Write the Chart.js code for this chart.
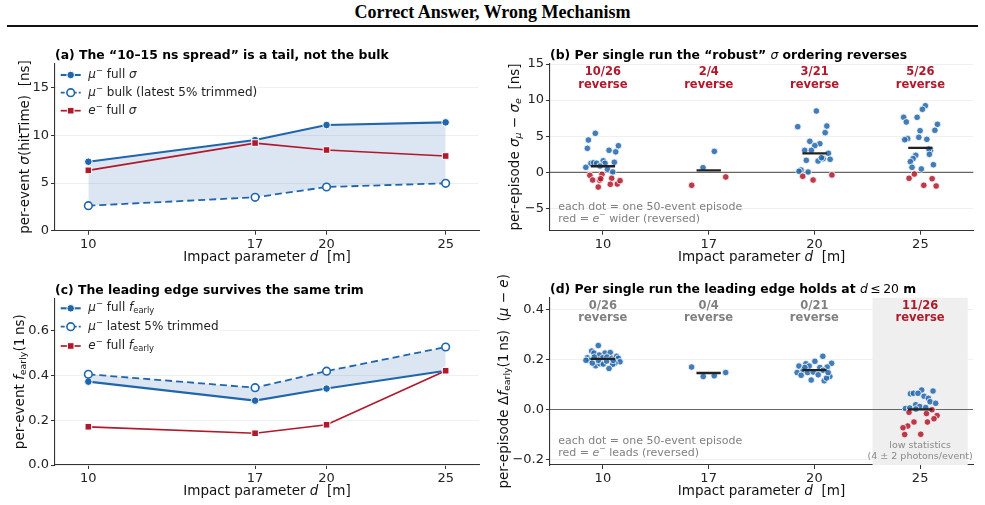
<!DOCTYPE html>
<html><head><meta charset="utf-8">
<script src="https://cdn.jsdelivr.net/npm/chart.js@4/dist/chart.umd.min.js"></script>
<style>
html,body{margin:0;padding:0;background:#fff;}
body{width:985px;height:505px;position:relative;overflow:hidden;}
#hdr{position:absolute;left:0;top:2px;width:985px;text-align:center;font:bold 18px "Liberation Serif","Times New Roman",serif;line-height:20px;color:#000;}
#rule{position:absolute;left:7px;right:7px;top:25px;height:2px;background:#111;}
canvas{position:absolute;}
</style></head><body>
<div id="hdr">Correct Answer, Wrong Mechanism</div>
<div id="rule"></div>
<canvas id="ca" width="490" height="240" style="left:0;top:30px"></canvas>
<canvas id="cb" width="495" height="240" style="left:490px;top:30px"></canvas>
<canvas id="cc" width="490" height="243" style="left:0;top:262px"></canvas>
<canvas id="cd" width="495" height="243" style="left:490px;top:262px"></canvas>
<script>
// ---------------- data ----------------
const dValues = [10, 17, 20, 25];
const dTickLabels = ['10', '17', '20', '25'];

// (a) per-event sigma(hitTime) [ns]
const sigmaMuFull = [7.23, 9.50, 11.08, 11.36];
const sigmaMuBulk = [2.62, 3.50, 4.58, 4.97];
const sigmaEFull  = [6.33, 9.19, 8.46, 7.83];

// (c) per-event f_early(1 ns)
const fMuFull = [0.373, 0.288, 0.342, 0.422];
const fMuTrim = [0.406, 0.346, 0.420, 0.528];
const fEFull  = [0.171, 0.142, 0.180, 0.422];

// (b) per-episode sigma_mu - sigma_e, one list per d
const dSigmaEpisodes = [
  [5.4, 4.47, 3.32, 3.68, 3.05, 2.83, 1.39, 0.69, 1.25, 1.33, 1.25, 1.6, 1.25, 0.42, 0.05, 0.87, -0.42, -1.07, -2.04, -1.11, -0.28, -0.89, -0.83, -1.66, -1.62, -1.16],
  [0.64, 2.9, -1.8, -0.65],
  [8.49, 6.32, 6.41, 5.49, 4.29, 3.96, 3.69, 3.04, 3.04, 2.63, 1.89, 1.8, 1.66, 1.56, 2.02, 0.32, 0.14, 0.04, -0.55, -1.07, -0.37],
  [9.22, 8.72, 7.62, 7.62, 6.97, 6.65, 5.82, 5.76, 4.85, 4.66, 4.52, 4.57, 3.05, 3.23, 2.49, 2.35, 1.89, 1.47, 1.05, 0.69, 0.46, -0.24, -0.83, -0.89, -1.8, -1.9]
];
const dSigmaJitter = [
  [-0.072, -0.137, -0.147, 0.146, 0.058, 0.121, 0.108, -0.161, -0.113, -0.087, -0.059, 0.003, 0.02, 0.043, 0.093, -0.027, -0.123, -0.097, -0.044, -0.031, -0.009, -0.021, 0.083, 0.07, 0.136, 0.162],
  [-0.054, 0.053, -0.161, 0.161],
  [0.017, -0.159, 0.116, 0.1, -0.045, 0.05, 0.002, -0.093, -0.03, 0.131, 0.081, 0.147, -0.078, 0.033, 0.065, -0.128, -0.147, -0.061, -0.112, -0.014, 0.164],
  [0.047, 0.019, -0.158, -0.031, -0.133, 0.161, 0.137, -0.003, -0.015, -0.12, -0.148, 0.061, 0.095, 0.08, 0.085, -0.044, -0.069, -0.095, 0.123, -0.079, 0.009, -0.057, -0.107, 0.111, 0.032, 0.149]
];

// (d) per-episode delta f_early(1 ns), one list per d
const dFearlyEpisodes = [
  [0.256, 0.234, 0.226, 0.226, 0.228, 0.207, 0.197, 0.218, 0.207, 0.21, 0.205, 0.213, 0.205, 0.191, 0.186, 0.181, 0.164, 0.175, 0.186, 0.183, 0.182, 0.197, 0.194, 0.197, 0.197, 0.21],
  [0.17, 0.132, 0.135, 0.148],
  [0.213, 0.185, 0.193, 0.183, 0.174, 0.174, 0.168, 0.17, 0.148, 0.157, 0.148, 0.15, 0.157, 0.137, 0.132, 0.118, 0.115, 0.126, 0.139, 0.168, 0.148],
  [0.078, 0.074, 0.063, 0.065, 0.065, 0.053, 0.045, 0.031, 0.025, 0.019, 0.012, 0.004, 0.006, 0.002, 0.008, -0.011, -0.016, -0.001, -0.024, -0.037, -0.05, -0.05, -0.066, -0.073, -0.1, -0.099]
];
const dFearlyJitter = [
  [-0.043, -0.106, -0.084, 0.02, 0.07, -0.147, -0.129, -0.034, -0.002, 0.039, 0.086, 0.13, 0.146, 0.162, 0.114, 0.093, 0.058, -0.068, -0.1, -0.027, 0.004, -0.043, 0.036, -0.16, 0.098, -0.081],
  [-0.161, -0.051, 0.053, 0.161],
  [0.08, 0.163, 0.005, -0.08, -0.146, -0.049, 0.052, 0.121, -0.163, -0.106, -0.064, -0.011, 0.083, -0.125, 0.146, -0.03, 0.093, 0.115, 0.036, -0.09, 0.13],
  [0.015, 0.122, -0.092, -0.063, -0.02, 0.037, 0.078, 0.094, 0.147, -0.042, -0.004, -0.139, -0.098, -0.04, 0.053, -0.105, 0.06, 0.112, 0.16, 0.131, 0.069, -0.058, -0.117, -0.162, -0.146, 0.006]
];

const yTicksA = [0, 5, 10, 15];
const yTicksB = [-5, 0, 5, 10, 15];
const yTicksC = [0, 0.2, 0.4, 0.6];
const yTicksD = [-0.2, 0, 0.2, 0.4];

// ---------------- style ----------------
const BLUE = '#2166ac', RED = '#b2182b';
const DOT_BLUE = 'rgba(33,102,172,0.85)', DOT_RED = 'rgba(178,24,43,0.85)';
const FILL = 'rgba(33,102,172,0.16)';
const FAM = '"DejaVu Sans", Verdana, sans-serif';
const DECO = {};

function fmtMinus(s){ return s.replace('-', '\u2212'); }

function drawRich(ctx, segs, x, y, o) {
  ctx.save();
  ctx.translate(x, y);
  if (o.rotate) ctx.rotate(o.rotate);
  const parts = segs.map(s => {
    const seg = typeof s === 'string' ? {t: s} : s;
    const small = seg.sub || seg.sup;
    const sz = small ? o.size * 0.7 : o.size;
    const bold = seg.b !== undefined ? seg.b : o.bold;
    const font = (seg.i ? 'italic ' : '') + (bold ? 'bold ' : '') + sz + 'px ' + FAM;
    ctx.font = font;
    return {t: seg.t, font, w: ctx.measureText(seg.t).width,
            dy: seg.sub ? o.size * 0.24 : (seg.sup ? -o.size * 0.36 : 0)};
  });
  const total = parts.reduce((a, p) => a + p.w, 0);
  let cx = o.align === 'center' ? -total / 2 : 0;
  ctx.fillStyle = o.color || '#000';
  ctx.textBaseline = 'middle';
  ctx.textAlign = 'left';
  for (const p of parts) { ctx.font = p.font; ctx.fillText(p.t, cx, p.dy); cx += p.w; }
  ctx.restore();
}

function drawMarker(ctx, m, x, y) {
  ctx.save();
  ctx.beginPath();
  if (m.shape === 'rect') {
    const h = m.size / 2;
    ctx.rect(x - h, y - h, 2 * h, 2 * h);
  } else {
    ctx.arc(x, y, m.size / 2, 0, Math.PI * 2);
  }
  ctx.fillStyle = m.fill; ctx.fill();
  ctx.lineWidth = m.edgeW; ctx.strokeStyle = m.edge; ctx.stroke();
  ctx.restore();
}

const deco = {
  id: 'deco',
  beforeDatasetsDraw(chart) {
    const o = DECO[chart.canvas.id]; if (!o) return;
    const {ctx, chartArea: ca, scales} = chart;
    if (o.span) {
      const x0 = scales.x.getPixelForValue(o.span[0]);
      const x1 = scales.x.getPixelForValue(o.span[1]);
      ctx.save(); ctx.fillStyle = '#efefef';
      ctx.fillRect(x0, ca.top, x1 - x0, ca.bottom - ca.top); ctx.restore();
    }
    if (o.zero) {
      const y = scales.y.getPixelForValue(0);
      ctx.save(); ctx.strokeStyle = '#666'; ctx.lineWidth = 1.2;
      ctx.beginPath(); ctx.moveTo(ca.left, y); ctx.lineTo(ca.right, y); ctx.stroke(); ctx.restore();
    }
  },
  afterDraw(chart) {
    const o = DECO[chart.canvas.id]; if (!o) return;
    const {ctx, chartArea: ca, scales} = chart;
    drawRich(ctx, o.title, ca.left, ca.top - 7.6, {size: 12.4, bold: true});
    drawRich(ctx, o.xTitle, (ca.left + ca.right) / 2, ca.bottom + 26.7, {size: 13.5, align: 'center', color: '#111'});
    drawRich(ctx, o.yTitle, o.yTitleX, (ca.top + ca.bottom) / 2, {size: 13.5, align: 'center', rotate: -Math.PI / 2, color: '#111'});
    if (o.legend) {
      const L = o.legend;
      ctx.save(); ctx.fillStyle = 'rgba(255,255,255,0.85)';
      ctx.fillRect(L.box[0], L.box[1], L.box[2], L.box[3]); ctx.restore();
      L.items.forEach((it, k) => {
        const y = L.rows[k];
        ctx.save();
        ctx.strokeStyle = it.color; ctx.lineWidth = it.lw;
        ctx.setLineDash(it.dash || []);
        ctx.beginPath(); ctx.moveTo(L.x, y); ctx.lineTo(L.x + 20, y); ctx.stroke();
        ctx.restore();
        drawMarker(ctx, it.marker, L.x + 10, y);
        drawRich(ctx, it.text, L.x + 27.6, y, {size: 12, color: '#222'});
      });
    }
    (o.notes || []).forEach(n => drawRich(ctx, n.text, n.x, n.y, {size: n.size || 11, color: n.color || '#808080', align: n.align}));
    (o.centerNotes || []).forEach(n => drawRich(ctx, n.text, scales.x.getPixelForValue(n.cat), n.y, {size: n.size, color: n.color, align: 'center'}));
    (o.annot || []).forEach((a, k) => {
      const x = scales.x.getPixelForValue(k);
      drawRich(ctx, [a.text], x, ca.top + o.annotDy[0], {size: 11.5, bold: true, color: a.color, align: 'center'});
      drawRich(ctx, ['reverse'], x, ca.top + o.annotDy[1], {size: 11.5, bold: true, color: a.color, align: 'center'});
    });
  }
};
Chart.register(deco);

function xAxis(min, max, vals, labels, h) {
  return {
    type: 'linear', min, max,
    afterBuildTicks: s => { s.ticks = vals.map(v => ({value: v})); },
    afterFit: s => { s.height = h; },
    ticks: {autoSkip: false, maxRotation: 0, minRotation: 0, padding: 2, color: '#222',
            font: {size: 13, family: FAM},
            callback: v => { const i = vals.indexOf(v); return i >= 0 ? labels[i] : ''; }},
    grid: {drawOnChartArea: false, drawTicks: true, tickLength: 4, tickColor: '#333', tickWidth: 1},
    border: {display: true, color: '#333', width: 1.1}
  };
}
function yAxis(min, max, vals, fmt, w) {
  return {
    type: 'linear', min, max,
    afterBuildTicks: s => { s.ticks = vals.map(v => ({value: v})); },
    afterFit: s => { s.width = w; },
    ticks: {padding: 2, color: '#222', font: {size: 13, family: FAM}, callback: v => fmt(v)},
    grid: {color: '#ececec', lineWidth: 0.8, drawTicks: true, tickLength: 4, tickColor: '#333', tickWidth: 1},
    border: {display: true, color: '#333', width: 1.1}
  };
}
function pts(xs, ys) { return xs.map((x, i) => ({x, y: ys[i]})); }

const mk = {
  full: {shape: 'circle', size: 7.6, fill: BLUE, edge: '#fff', edgeW: 1},
  open: {shape: 'circle', size: 7.6, fill: '#fff', edge: BLUE, edgeW: 1.6},
  sq:   {shape: 'rect', size: 6.6, fill: RED, edge: '#fff', edgeW: 1}
};

function lineSet(data, color, lw, marker, order, extra) {
  return Object.assign({
    data, showLine: true, borderColor: color, borderWidth: lw, tension: 0, order,
    pointStyle: marker.shape === 'rect' ? 'rect' : 'circle',
    pointRadius: marker.shape === 'rect' ? marker.size / 2 / Math.SQRT1_2 : marker.size / 2,
    pointBackgroundColor: marker.fill, pointBorderColor: marker.edge, pointBorderWidth: marker.edgeW,
    fill: false
  }, extra || {});
}

const commonOpts = {animation: false, responsive: false, devicePixelRatio: 1, events: []};
const basePlugins = {legend: {display: false}, tooltip: {enabled: false}};

const xTitleSegs = ['Impact parameter ', {t: 'd', i: 1}, '  [m]'];
const MU = [{t: '\u03bc', i: 1}, {t: '\u2212', sup: 1}];
const EL = [{t: 'e', i: 1}, {t: '\u2212', sup: 1}];
const FE = [{t: 'f', i: 1}, {t: 'early', sub: 1}];

// ---------------- (a) ----------------
DECO.ca = {
  title: ['(a) The \u201c10\u201315 ns spread\u201d is a tail, not the bulk'],
  xTitle: xTitleSegs,
  yTitle: ['per-event ', {t: '\u03c3', i: 1}, '(hitTime)  [ns]'], yTitleX: 25,
  legend: {x: 60.7, rows: [45, 62.7, 80.7], box: [57, 35.5, 200, 55],
    items: [
      {color: BLUE, lw: 2.1, marker: mk.full, text: [...MU, ' full ', {t: '\u03c3', i: 1}]},
      {color: BLUE, lw: 1.8, dash: [4, 2], marker: mk.open, text: [...MU, ' bulk (latest 5% trimmed)']},
      {color: RED, lw: 1.7, marker: mk.sq, text: [...EL, ' full ', {t: '\u03c3', i: 1}]}
    ]}
};
new Chart(document.getElementById('ca'), {
  type: 'scatter',
  data: {datasets: [
    lineSet(pts(dValues, sigmaMuFull), BLUE, 2.1, mk.full, 3, {fill: {target: '+1'}, backgroundColor: FILL}),
    lineSet(pts(dValues, sigmaMuBulk), BLUE, 1.8, mk.open, 2, {borderDash: [7, 4]}),
    lineSet(pts(dValues, sigmaEFull), RED, 1.7, mk.sq, 1)
  ]},
  options: Object.assign({}, commonOpts, {
    layout: {padding: {left: 0, top: 33.3, right: 11, bottom: 0}},
    scales: {
      x: xAxis(8.6, 26.4, dValues, dTickLabels, 39.3),
      y: yAxis(0, 17.55, yTicksA, v => String(v), 55)
    },
    plugins: basePlugins
  })
});

// ---------------- (c) ----------------
DECO.cc = {
  title: ['(c) The leading edge survives the same trim'],
  xTitle: xTitleSegs,
  yTitle: ['per-event ', ...FE, '(1\u2009ns)'], yTitleX: 20,
  legend: {x: 60.7, rows: [46.3, 64.7, 84], box: [57, 37, 163, 57],
    items: [
      {color: BLUE, lw: 2.1, marker: mk.full, text: [...MU, ' full ', ...FE]},
      {color: BLUE, lw: 1.8, dash: [4, 2], marker: mk.open, text: [...MU, ' latest 5% trimmed']},
      {color: RED, lw: 1.7, marker: mk.sq, text: [...EL, ' full ', ...FE]}
    ]}
};
new Chart(document.getElementById('cc'), {
  type: 'scatter',
  data: {datasets: [
    lineSet(pts(dValues, fMuFull), BLUE, 2.1, mk.full, 3, {fill: {target: '+1'}, backgroundColor: FILL}),
    lineSet(pts(dValues, fMuTrim), BLUE, 1.8, mk.open, 2, {borderDash: [7, 4]}),
    lineSet(pts(dValues, fEFull), RED, 1.7, mk.sq, 1)
  ]},
  options: Object.assign({}, commonOpts, {
    layout: {padding: {left: 0, top: 36.3, right: 11, bottom: 0}},
    scales: {
      x: xAxis(8.6, 26.4, dValues, dTickLabels, 40),
      y: yAxis(0, 0.746, yTicksC, v => v.toFixed(1), 55)
    },
    plugins: basePlugins
  })
});

// ---------------- episode panels ----------------
function episodeSets(eps, jit) {
  const sets = [];
  eps.forEach((vals, g) => {
    sets.push({
      data: vals.map((v, k) => ({x: g + jit[g][k], y: v})),
      showLine: false, order: 2, pointRadius: 3.3, pointBorderWidth: 0.8, pointBorderColor: '#fff',
      pointBackgroundColor: vals.map(v => v < 0 ? DOT_RED : DOT_BLUE)
    });
    const mean = vals.reduce((a, b) => a + b, 0) / vals.length;
    sets.push({
      data: [{x: g - 0.115, y: mean}, {x: g + 0.115, y: mean}],
      showLine: true, borderColor: '#222', borderWidth: 2.3, pointRadius: 0, order: 1, fill: false
    });
  });
  return sets;
}
function reverseLabels(eps, grayZero) {
  return eps.map(vals => {
    const n = vals.filter(v => v < 0).length;
    return {text: n + '/' + vals.length, color: (grayZero && n === 0) ? '#808080' : RED};
  });
}
const catIdx = [0, 1, 2, 3];

// ---------------- (b) ----------------
DECO.cb = {
  title: ['(b) Per single run the \u201crobust\u201d ', {t: '\u03c3', i: 1, b: false}, ' ordering reverses'],
  xTitle: xTitleSegs,
  yTitle: ['per-episode ', {t: '\u03c3', i: 1}, {t: '\u03bc', i: 1, sub: 1}, ' \u2212 ', {t: '\u03c3', i: 1}, {t: 'e', i: 1, sub: 1}, '  [ns]'], yTitleX: 25,
  zero: true,
  annot: reverseLabels(dSigmaEpisodes, false), annotDy: [9, 21.7],
  notes: [
    {text: ['each dot = one 50-event episode'], x: 68.3, y: 176.7},
    {text: ['red = ', ...EL, ' wider (reversed)'], x: 68.3, y: 189.3}
  ]
};
new Chart(document.getElementById('cb'), {
  type: 'scatter',
  data: {datasets: episodeSets(dSigmaEpisodes, dSigmaJitter)},
  options: Object.assign({}, commonOpts, {
    layout: {padding: {left: 0, top: 33.3, right: 11.7, bottom: 0}},
    scales: {
      x: xAxis(-0.5, 3.5, catIdx, dTickLabels, 39.3),
      y: yAxis(-8.09, 15.1, yTicksB, v => fmtMinus(String(v)), 60)
    },
    plugins: basePlugins
  })
});

// ---------------- (d) ----------------
DECO.cd = {
  title: ['(d) Per single run the leading edge holds at ', {t: 'd', i: 1, b: false}, {t: '\u2009\u2264\u200920', b: false}, ' m'],
  xTitle: xTitleSegs,
  yTitle: ['per-episode \u0394', ...FE, '(1\u2009ns)  (', {t: '\u03bc', i: 1}, ' \u2212 ', {t: 'e', i: 1}, ')'], yTitleX: 14,
  zero: true, span: [2.55, 3.45],
  annot: reverseLabels(dFearlyEpisodes, true), annotDy: [8, 20.6],
  notes: [
    {text: ['each dot = one 50-event episode'], x: 68.3, y: 179},
    {text: ['red = ', ...EL, ' leads (reversed)'], x: 68.3, y: 191.3}
  ],
  centerNotes: [
    {text: ['low statistics'], cat: 3, y: 184, size: 9.5, color: '#888'},
    {text: ['(4 \u00b1 2 photons/event)'], cat: 3, y: 195, size: 9.5, color: '#888'}
  ]
};
new Chart(document.getElementById('cd'), {
  type: 'scatter',
  data: {datasets: episodeSets(dFearlyEpisodes, dFearlyJitter)},
  options: Object.assign({}, commonOpts, {
    layout: {padding: {left: 0, top: 35.7, right: 12, bottom: 0}},
    scales: {
      x: xAxis(-0.5, 3.5, catIdx, dTickLabels, 40),
      y: yAxis(-0.222, 0.4475, yTicksD, v => fmtMinus(v.toFixed(1)), 60)
    },
    plugins: basePlugins
  })
});
</script>
</body></html>
